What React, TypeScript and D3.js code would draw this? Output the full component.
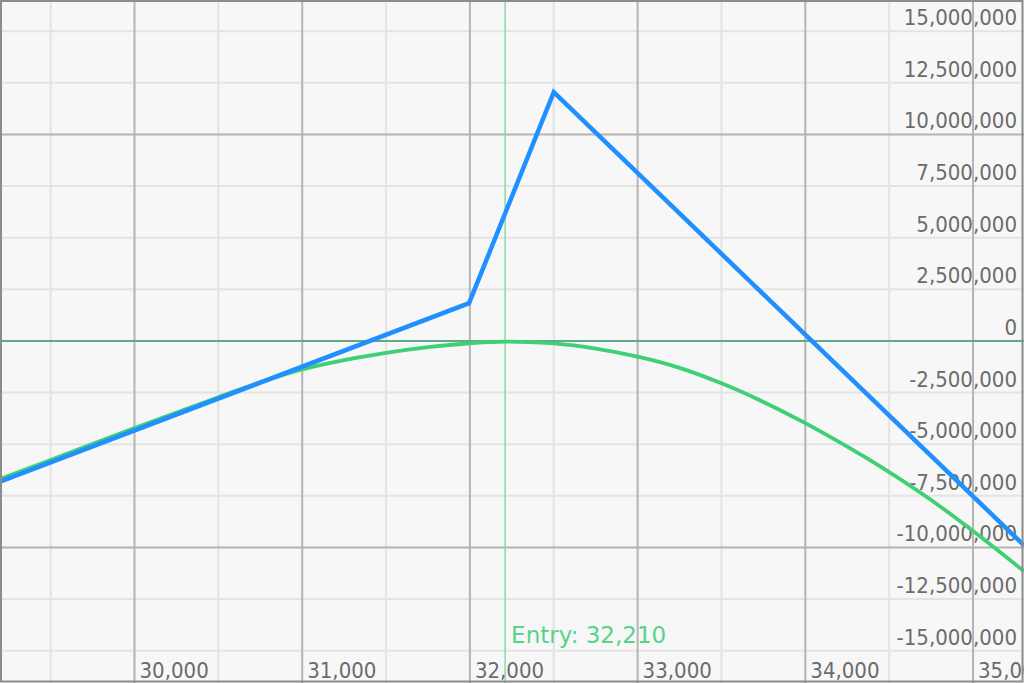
import React from "react";
import * as d3 from "d3";

const WIDTH = 1024;
const HEIGHT = 683;

// Underlying price (x) and P&L (y)
const priceDomain: [number, number] = [29198, 35304];
const pnlDomain: [number, number] = [-16.562e6, 16.513e6];

const xMajorTicks = [30000, 31000, 32000, 33000, 34000, 35000];
const xMinorTicks = [29500, 30500, 31500, 32500, 33500, 34500];
const xLabelTicks = [30000, 31000, 32000, 33000, 34000, 35000];
const yLabelTicks = [
  15e6, 12.5e6, 10e6, 7.5e6, 5e6, 2.5e6, 0, -2.5e6, -5e6, -7.5e6, -10e6, -12.5e6, -15e6,
];
const yMinorTicks = [15e6, 12.5e6, 7.5e6, 5e6, 2.5e6, -2.5e6, -5e6, -7.5e6, -12.5e6, -15e6];
const yMajorTicks = [10e6, -10e6];

const entryPrice = 32210;

// Expiry payoff (blue)
const payoffPrice = [29198, 31995, 32500, 35304];
const payoffValue = [-6.81e6, 1.83e6, 12.05e6, -9.9e6];

// Current P&L curve (green)
const curvePrice = [
  29198, 29500, 30000, 30500, 30750, 31000, 31250, 31500, 31750, 32000, 32210, 32350,
  32500, 32750, 33000, 33250, 33500, 33750, 34000, 34250, 34500, 34750, 35000, 35304,
];
const curveValue = [
  -6.68e6, -5.76e6, -4.22e6, -2.72e6, -2.0e6, -1.38e6, -0.93e6, -0.58e6, -0.3e6, -0.11e6,
  -0.03e6, -0.05e6, -0.12e6, -0.37e6, -0.76e6, -1.3e6, -2.05e6, -2.95e6, -3.98e6, -5.12e6,
  -6.35e6, -7.7e6, -9.2e6, -11.15e6,
];

const locale = d3.formatLocale({
  decimal: ".",
  thousands: ",",
  grouping: [3],
  currency: ["", ""],
  minus: "-",
});
const fmt = locale.format(",");

export default function App() {
  const x = d3.scaleLinear().domain(priceDomain).range([0, WIDTH]);
  const y = d3.scaleLinear().domain(pnlDomain).range([HEIGHT, 0]);

  const payoff = payoffPrice.map((p, i) => [p, payoffValue[i]] as [number, number]);
  const curve = curvePrice.map((p, i) => [p, curveValue[i]] as [number, number]);

  const payoffLine = d3
    .line<[number, number]>()
    .x((d) => x(d[0]))
    .y((d) => y(d[1]));
  const curveLine = d3
    .line<[number, number]>()
    .x((d) => x(d[0]))
    .y((d) => y(d[1]))
    .curve(d3.curveMonotoneX);

  const axisFont = "'DejaVu Sans Condensed', 'DejaVu Sans', sans-serif";

  return (
    <svg
      width={WIDTH}
      height={HEIGHT}
      style={{ position: "absolute", left: 0, top: 0, display: "block" }}
    >
      <rect x={0} y={0} width={WIDTH} height={HEIGHT} fill="#f7f7f7" />
      {/* minor grid */}
      {xMinorTicks.map((t) => (
        <line key={"xm" + t} x1={x(t)} x2={x(t)} y1={0} y2={HEIGHT} stroke="#e3e3e3" strokeWidth={2} />
      ))}
      {yMinorTicks.map((t) => (
        <line key={"ym" + t} x1={0} x2={WIDTH} y1={y(t)} y2={y(t)} stroke="#e3e3e3" strokeWidth={2} />
      ))}
      {/* major grid */}
      {xMajorTicks.map((t) => (
        <line key={"xM" + t} x1={x(t)} x2={x(t)} y1={0} y2={HEIGHT} stroke="#b4b4b4" strokeWidth={2} />
      ))}
      {yMajorTicks.map((t) => (
        <line key={"yM" + t} x1={0} x2={WIDTH} y1={y(t)} y2={y(t)} stroke="#b4b4b4" strokeWidth={2} />
      ))}
      {/* zero line */}
      <line x1={0} x2={WIDTH} y1={y(0)} y2={y(0)} stroke="#62a88a" strokeWidth={2} />
      {/* entry line */}
      <line x1={x(entryPrice)} x2={x(entryPrice)} y1={0} y2={HEIGHT} stroke="#86dca8" strokeWidth={1.5} />
      {/* y labels */}
      {yLabelTicks.map((t) => (
        <text
          key={"yl" + t}
          x={1017}
          y={y(t) - 6}
          textAnchor="end"
          fontFamily={axisFont}
          fontSize={22}
          fill="#6b6b6b"
        >
          {fmt(t)}
        </text>
      ))}
      {/* x labels */}
      {xLabelTicks.map((t) => (
        <text
          key={"xl" + t}
          x={x(t) + 5}
          y={678}
          textAnchor="start"
          fontFamily={axisFont}
          fontSize={22}
          fill="#6b6b6b"
        >
          {fmt(t)}
        </text>
      ))}
      {/* series */}
      <path d={curveLine(curve) || ""} fill="none" stroke="#3fcf74" strokeWidth={3.8} strokeLinejoin="round" />
      <path d={payoffLine(payoff) || ""} fill="none" stroke="#2190ff" strokeWidth={4.5} strokeLinejoin="miter" />
      {/* entry label */}
      <text
        x={x(entryPrice) + 6}
        y={643}
        fontFamily="'DejaVu Sans', sans-serif"
        fontSize={23}
        fill="#55d48a"
      >
        {"Entry: " + fmt(entryPrice)}
      </text>
      {/* border */}
      <rect x={1} y={1} width={WIDTH - 2.5} height={HEIGHT - 2.5} fill="none" stroke="#8c8c8c" strokeWidth={2} />
    </svg>
  );
}
